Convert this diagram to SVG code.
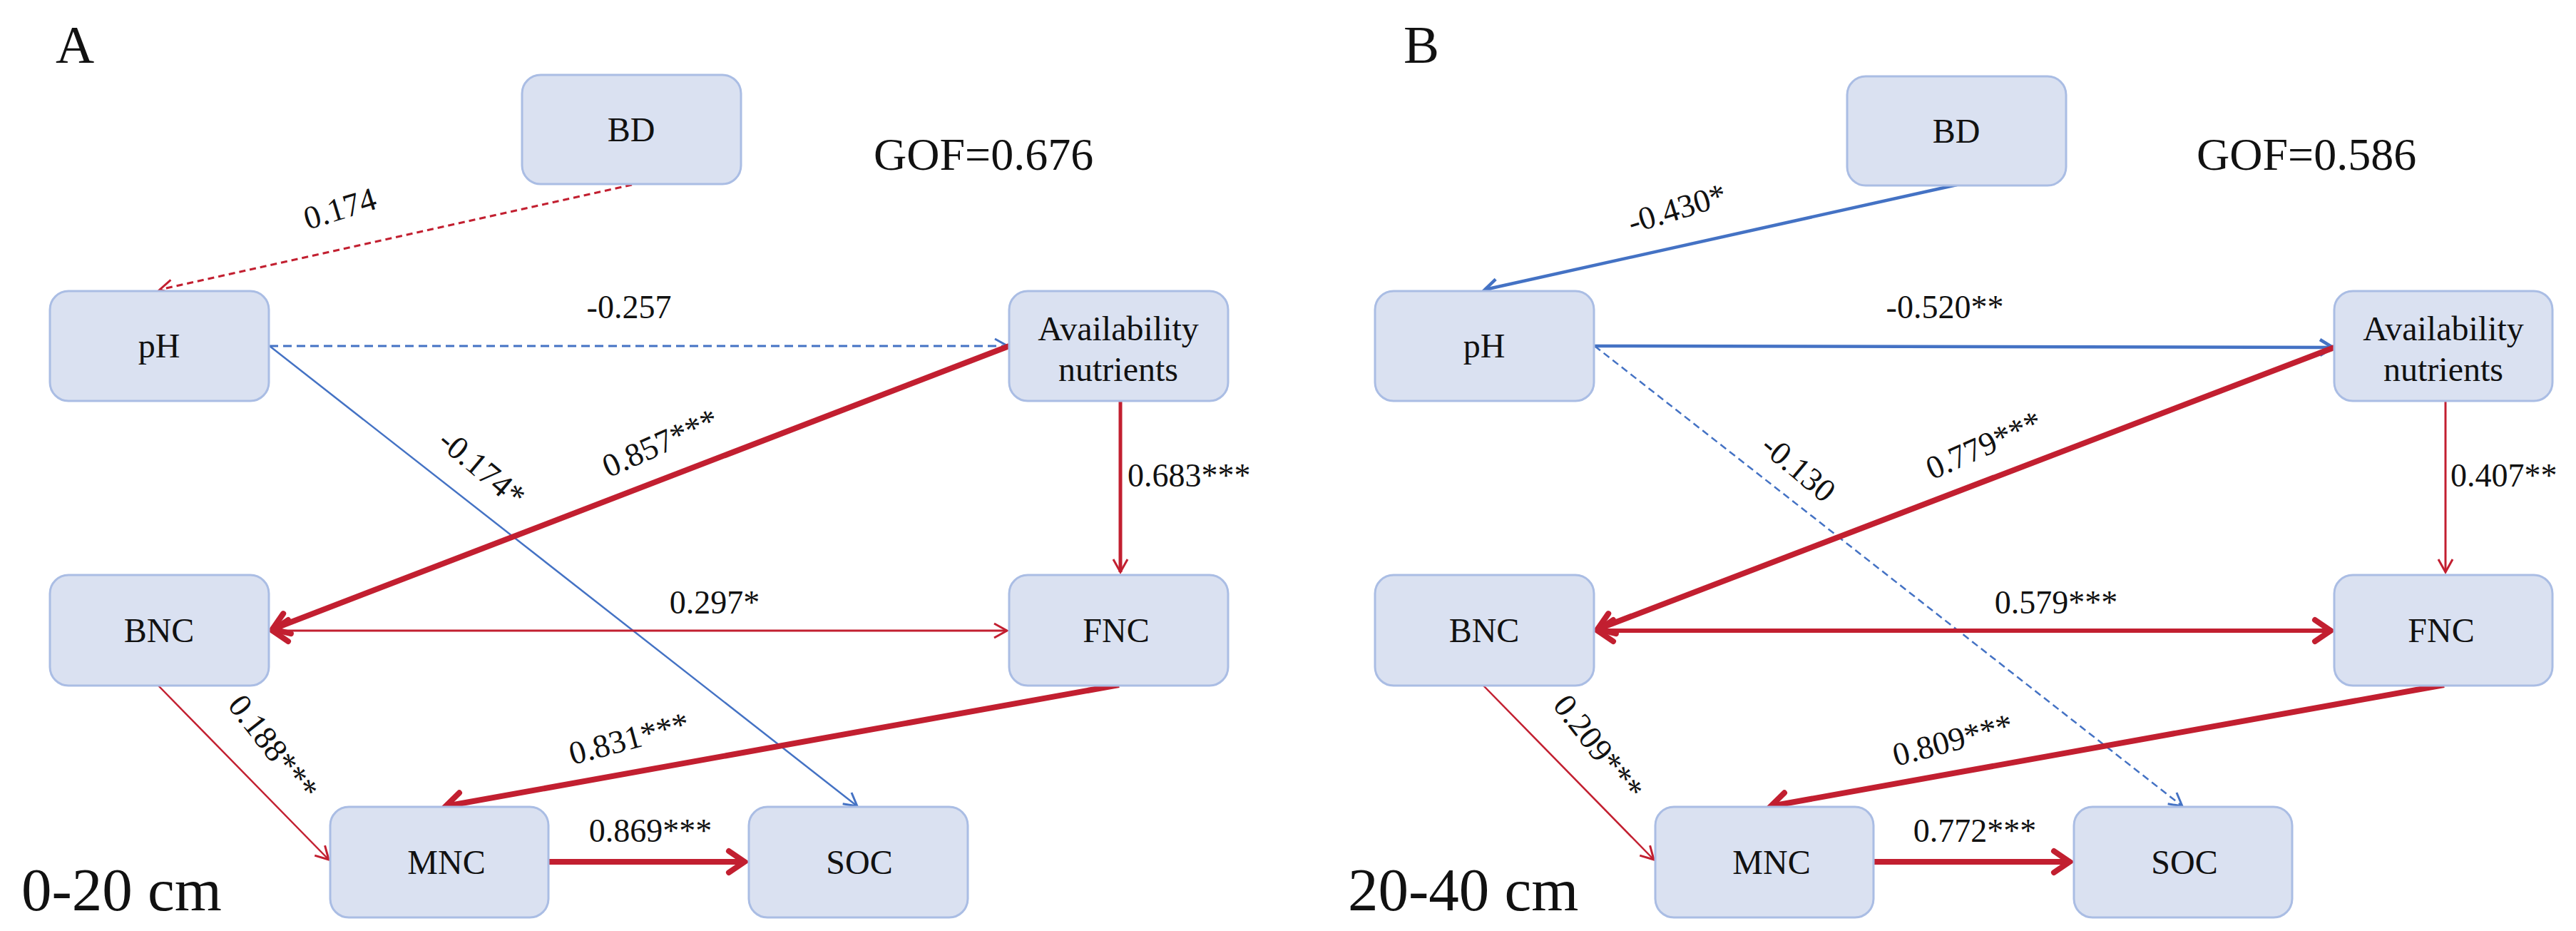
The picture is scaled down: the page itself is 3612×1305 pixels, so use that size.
<svg xmlns="http://www.w3.org/2000/svg" width="3612" height="1305" viewBox="0 0 3612 1305">
<style>
.box{fill:#DAE1F1;stroke:#AABDE4;stroke-width:3}
.nt{font-family:"Liberation Serif",serif;font-size:48px;text-anchor:middle;fill:#111}
.el{font-family:"Liberation Serif",serif;font-size:46px;text-anchor:middle;fill:#111}
.big{font-family:"Liberation Serif",serif;fill:#111}
.red{stroke:#C21F30;fill:none}
.blue{stroke:#4472C4;fill:none}
</style>
<defs>
<marker id="rs" markerUnits="userSpaceOnUse" markerWidth="40" markerHeight="40" refX="20" refY="20" viewBox="0 0 40 40" orient="auto-start-reverse"><path d="M2,10 L20,20 L2,30" fill="none" stroke="#C21F30" stroke-width="3"/></marker>
<marker id="rl" markerUnits="userSpaceOnUse" markerWidth="50" markerHeight="50" refX="30" refY="25" viewBox="0 0 50 50" orient="auto-start-reverse"><path d="M8,10 L30,25 L8,40" fill="none" stroke="#C21F30" stroke-width="8" stroke-linecap="round"/></marker>
<marker id="bs" markerUnits="userSpaceOnUse" markerWidth="40" markerHeight="40" refX="20" refY="20" viewBox="0 0 40 40" orient="auto-start-reverse"><path d="M2,10 L20,20 L2,30" fill="none" stroke="#4472C4" stroke-width="3"/></marker>
<marker id="bm" markerUnits="userSpaceOnUse" markerWidth="40" markerHeight="40" refX="22" refY="20" viewBox="0 0 40 40" orient="auto-start-reverse"><path d="M4,9 L22,20 L4,31" fill="none" stroke="#4472C4" stroke-width="4.5"/></marker>
</defs>

<!-- Panel A -->
<g id="panelA-labels">
<text class="big" x="78" y="88" font-size="75">A</text>
<text class="big" x="1225" y="238" font-size="64">GOF=0.676</text>
<text class="big" x="30" y="1276" font-size="85">0-20 cm</text>
</g>
<g id="A-connectors">
<line class="red" x1="886" y1="259" x2="224" y2="406" stroke-width="3" stroke-dasharray="9,6" marker-end="url(#rs)"/>
<line class="blue" x1="378" y1="485" x2="1413" y2="485" stroke-width="3" stroke-dasharray="12,7" marker-end="url(#bs)"/>
<line class="blue" x1="378" y1="485" x2="1202" y2="1130" stroke-width="2.5" marker-end="url(#bs)"/>
<line class="red" x1="1415" y1="485" x2="382" y2="882" stroke-width="8" marker-end="url(#rl)"/>
<line class="red" x1="1571" y1="562" x2="1571" y2="802" stroke-width="5" marker-end="url(#rs)"/>
<line class="red" x1="382" y1="884" x2="1412" y2="884" stroke-width="3" marker-start="url(#rl)" marker-end="url(#rs)"/>
<line class="red" x1="1569" y1="960" x2="625" y2="1130" stroke-width="8" marker-end="url(#rl)"/>
<line class="red" x1="222" y1="961" x2="461" y2="1205" stroke-width="2.5" marker-end="url(#rs)"/>
<line class="red" x1="768" y1="1208" x2="1044" y2="1208" stroke-width="8" marker-end="url(#rl)"/>
<text class="el" x="481" y="307" transform="rotate(-17 481 307)">0.174</text>
<text class="el" x="882" y="446">-0.257</text>
<text class="el" x="666" y="668" transform="rotate(40 666 668)">-0.174*</text>
<text class="el" x="932" y="635" transform="rotate(-24 932 635)">0.857***</text>
<text class="el" x="1581" y="682" text-anchor="start" style="text-anchor:start">0.683***</text>
<text class="el" x="1002" y="860">0.297*</text>
<text class="el" x="886" y="1050" transform="rotate(-15 886 1050)">0.831***</text>
<text class="el" x="371" y="1057" transform="rotate(52 371 1057)">0.188***</text>
<text class="el" x="912" y="1180">0.869***</text>
</g>
<g id="A-BD"><rect class="box" x="732" y="105" width="307" height="153" rx="26"/><text class="nt" x="885" y="198">BD</text></g>
<g id="A-pH"><rect class="box" x="70" y="408" width="307" height="154" rx="26"/><text class="nt" x="223" y="501">pH</text></g>
<g id="A-AN"><rect class="box" x="1415" y="408" width="307" height="154" rx="26"/><text class="nt" x="1568" y="477">Availability</text><text class="nt" x="1568" y="534">nutrients</text></g>
<g id="A-BNC"><rect class="box" x="70" y="806" width="307" height="155" rx="26"/><text class="nt" x="223" y="900">BNC</text></g>
<g id="A-FNC"><rect class="box" x="1415" y="806" width="307" height="155" rx="26"/><text class="nt" x="1565" y="900">FNC</text></g>
<g id="A-MNC"><rect class="box" x="463" y="1131" width="306" height="155" rx="26"/><text class="nt" x="626" y="1225">MNC</text></g>
<g id="A-SOC"><rect class="box" x="1050" y="1131" width="307" height="155" rx="26"/><text class="nt" x="1205" y="1225">SOC</text></g>

<!-- Panel B -->
<g id="panelB-labels">
<text class="big" x="1968" y="88" font-size="75">B</text>
<text class="big" x="3080" y="238" font-size="64">GOF=0.586</text>
<text class="big" x="1890" y="1276" font-size="85">20-40 cm</text>
</g>
<g id="B-connectors">
<line class="blue" x1="2744" y1="259" x2="2082" y2="406" stroke-width="4.5" marker-end="url(#bm)"/>
<line class="blue" x1="2236" y1="485" x2="3271" y2="487" stroke-width="4.5" marker-end="url(#bm)"/>
<line class="blue" x1="2236" y1="485" x2="3060" y2="1130" stroke-width="2.5" stroke-dasharray="10,6" marker-end="url(#bs)"/>
<line class="red" x1="3273" y1="487" x2="2240" y2="882" stroke-width="8" marker-end="url(#rl)"/>
<line class="red" x1="3429" y1="562" x2="3429" y2="802" stroke-width="3" marker-end="url(#rs)"/>
<line class="red" x1="2240" y1="884" x2="3268" y2="884" stroke-width="6" marker-start="url(#rl)" marker-end="url(#rl)"/>
<line class="red" x1="3427" y1="960" x2="2483" y2="1130" stroke-width="8" marker-end="url(#rl)"/>
<line class="red" x1="2080" y1="961" x2="2319" y2="1205" stroke-width="2.5" marker-end="url(#rs)"/>
<line class="red" x1="2626" y1="1208" x2="2902" y2="1208" stroke-width="8" marker-end="url(#rl)"/>
<text class="el" x="2356" y="307" transform="rotate(-17 2356 307)">-0.430*</text>
<text class="el" x="2727" y="446">-0.520**</text>
<text class="el" x="2512" y="668" transform="rotate(40 2512 668)">-0.130</text>
<text class="el" x="2788" y="638" transform="rotate(-24 2788 638)">0.779***</text>
<text class="el" x="3436" y="682" style="text-anchor:start">0.407**</text>
<text class="el" x="2883" y="860">0.579***</text>
<text class="el" x="2742" y="1052" transform="rotate(-15 2742 1052)">0.809***</text>
<text class="el" x="2229" y="1057" transform="rotate(52 2229 1057)">0.209***</text>
<text class="el" x="2769" y="1180">0.772***</text>
</g>
<g id="B-BD"><rect class="box" x="2590" y="107" width="307" height="153" rx="26"/><text class="nt" x="2743" y="200">BD</text></g>
<g id="B-pH"><rect class="box" x="1928" y="408" width="307" height="154" rx="26"/><text class="nt" x="2081" y="501">pH</text></g>
<g id="B-AN"><rect class="box" x="3273" y="408" width="306" height="154" rx="26"/><text class="nt" x="3426" y="477">Availability</text><text class="nt" x="3426" y="534">nutrients</text></g>
<g id="B-BNC"><rect class="box" x="1928" y="806" width="307" height="155" rx="26"/><text class="nt" x="2081" y="900">BNC</text></g>
<g id="B-FNC"><rect class="box" x="3273" y="806" width="306" height="155" rx="26"/><text class="nt" x="3423" y="900">FNC</text></g>
<g id="B-MNC"><rect class="box" x="2321" y="1131" width="306" height="155" rx="26"/><text class="nt" x="2484" y="1225">MNC</text></g>
<g id="B-SOC"><rect class="box" x="2908" y="1131" width="306" height="155" rx="26"/><text class="nt" x="3063" y="1225">SOC</text></g>
</svg>
